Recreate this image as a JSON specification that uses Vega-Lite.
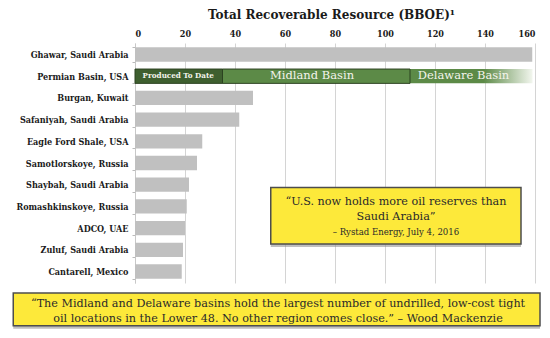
{
  "$schema": "https://vega.github.io/schema/vega-lite/v6.json",
  "width": 400,
  "height": 240,
  "autosize": {"type": "none"},
  "padding": {"left": 135, "top": 43, "right": 15, "bottom": 55},
  "background": "white",
  "config": {
    "view": {"stroke": null},
    "font": "DejaVu Serif"
  },
  "datasets": {
    "bars": [
      {"field": "Ghawar, Saudi Arabia", "segment": "Total", "start": 0, "end": 158.9},
      {"field": "Permian Basin, USA", "segment": "Produced To Date", "start": 0, "end": 35},
      {"field": "Permian Basin, USA", "segment": "Midland Basin", "start": 35, "end": 110},
      {"field": "Permian Basin, USA", "segment": "Delaware Basin", "start": 110, "end": 159},
      {"field": "Burgan, Kuwait", "segment": "Total", "start": 0, "end": 47.2},
      {"field": "Safaniyah, Saudi Arabia", "segment": "Total", "start": 0, "end": 41.7},
      {"field": "Eagle Ford Shale, USA", "segment": "Total", "start": 0, "end": 26.9},
      {"field": "Samotlorskoye, Russia", "segment": "Total", "start": 0, "end": 24.8},
      {"field": "Shaybah, Saudi Arabia", "segment": "Total", "start": 0, "end": 21.6},
      {"field": "Romashkinskoye, Russia", "segment": "Total", "start": 0, "end": 20.7},
      {"field": "ADCO, UAE", "segment": "Total", "start": 0, "end": 20.0},
      {"field": "Zuluf, Saudi Arabia", "segment": "Total", "start": 0, "end": 19.2},
      {"field": "Cantarell, Mexico", "segment": "Total", "start": 0, "end": 18.7}
    ],
    "seglabels": [
      {"field": "Permian Basin, USA", "label": "Produced To Date", "pos": 17.3, "kind": "small"},
      {"field": "Permian Basin, USA", "label": "Midland Basin", "pos": 70.8, "kind": "big"},
      {"field": "Permian Basin, USA", "label": "Delaware Basin", "pos": 131.4, "kind": "big"}
    ],
    "boxes": [
      {"box": "Rystad", "x1": 54.3, "x2": 154.4, "y1": 6.62, "y2": 9.21},
      {"box": "Wood", "x1": -48.7, "x2": 162, "y1": 11.46, "y2": 12.96}
    ],
    "quotes": [
      {"text": "“U.S. now holds more oil reserves than", "role": "quote", "qx": 104.4, "qy": 7.27},
      {"text": "Saudi Arabia”", "role": "quote", "qx": 104.4, "qy": 7.99},
      {"text": "– Rystad Energy, July 4, 2016", "role": "source", "qx": 104.4, "qy": 8.66},
      {"text": "“The Midland and Delaware basins hold the largest number of undrilled, low-cost tight", "role": "quote", "qx": 57.2, "qy": 11.97},
      {"text": "oil locations in the Lower 48. No other region comes close.” – Wood Mackenzie", "role": "quote", "qx": 57.2, "qy": 12.64}
    ]
  },
  "layer": [
    {
      "layer": [
        {
          "data": {"name": "bars"},
          "transform": [{"filter": "datum.segment === 'Total'"}],
          "mark": {"type": "bar", "color": "#c0c0c0"},
          "encoding": {
            "y": {
              "field": "field",
              "type": "nominal",
              "sort": ["Ghawar, Saudi Arabia", "Permian Basin, USA", "Burgan, Kuwait", "Safaniyah, Saudi Arabia", "Eagle Ford Shale, USA", "Samotlorskoye, Russia", "Shaybah, Saudi Arabia", "Romashkinskoye, Russia", "ADCO, UAE", "Zuluf, Saudi Arabia", "Cantarell, Mexico"],
              "scale": {"paddingInner": 0.34, "paddingOuter": 0.2},
              "axis": {
                "title": null,
                "labelFont": "DejaVu Serif Condensed, DejaVu Serif",
                "labelFontWeight": "bold",
                "labelFontSize": 9,
                "labelColor": "#1a1a1a",
                "labelPadding": 4,
                "tickBand": "extent",
                "tickSize": 3,
                "tickColor": "#bbbbbb",
                "domainColor": "#c8c8c8",
                "grid": false
              }
            },
            "x": {
              "field": "start",
              "type": "quantitative",
              "scale": {"domain": [0, 160], "nice": false},
              "axis": {
                "orient": "top",
                "values": [0, 20, 40, 60, 80, 100, 120, 140, 160],
                "title": "Total Recoverable Resource (BBOE)¹",
                "titleFont": "DejaVu Serif",
                "titleFontWeight": "bold",
                "titleFontSize": 12,
                "titleColor": "#1a1a1a",
                "titlePadding": 8,
                "titleX": 196,
                "labelFont": "DejaVu Serif Condensed, DejaVu Serif",
                "labelFontWeight": "bold",
                "labelFontSize": 9,
                "labelColor": "#1a1a1a",
                "labelPadding": 5,
                "ticks": false,
                "domain": false,
                "grid": true,
                "gridColor": "#d4d4d4",
                "gridWidth": 1
              }
            },
            "x2": {"field": "end"}
          }
        },
        {
          "data": {"name": "bars"},
          "transform": [{"filter": "datum.segment === 'Delaware Basin'"}],
          "mark": {
            "type": "bar",
            "color": {
              "gradient": "linear",
              "x1": 0, "y1": 0, "x2": 1, "y2": 0,
              "stops": [
                {"offset": 0, "color": "#5c8a47"},
                {"offset": 0.6, "color": "#5c8a47"},
                {"offset": 1, "color": "#f2f6ee"}
              ]
            }
          },
          "encoding": {
            "y": {"field": "field", "type": "nominal", "sort": ["Ghawar, Saudi Arabia", "Permian Basin, USA", "Burgan, Kuwait", "Safaniyah, Saudi Arabia", "Eagle Ford Shale, USA", "Samotlorskoye, Russia", "Shaybah, Saudi Arabia", "Romashkinskoye, Russia", "ADCO, UAE", "Zuluf, Saudi Arabia", "Cantarell, Mexico"]},
            "x": {"field": "start", "type": "quantitative"},
            "x2": {"field": "end"}
          }
        },
        {
          "data": {"name": "bars"},
          "transform": [{"filter": "datum.segment === 'Produced To Date' || datum.segment === 'Midland Basin'"}],
          "mark": {"type": "bar", "stroke": "#2b4220", "strokeWidth": 1},
          "encoding": {
            "y": {"field": "field", "type": "nominal", "sort": ["Ghawar, Saudi Arabia", "Permian Basin, USA", "Burgan, Kuwait", "Safaniyah, Saudi Arabia", "Eagle Ford Shale, USA", "Samotlorskoye, Russia", "Shaybah, Saudi Arabia", "Romashkinskoye, Russia", "ADCO, UAE", "Zuluf, Saudi Arabia", "Cantarell, Mexico"]},
            "x": {"field": "start", "type": "quantitative"},
            "x2": {"field": "end"},
            "color": {
              "field": "segment",
              "type": "nominal",
              "scale": {"domain": ["Produced To Date", "Midland Basin"], "range": ["#3e5f2f", "#5c8a47"]},
              "legend": null
            }
          }
        },
        {
          "data": {"name": "seglabels"},
          "transform": [{"filter": "datum.kind === 'small'"}],
          "mark": {"type": "text", "color": "#f4f4ec", "font": "DejaVu Serif Condensed, DejaVu Serif", "fontWeight": "bold", "fontSize": 8, "align": "center", "baseline": "middle"},
          "encoding": {
            "y": {"field": "field", "type": "nominal", "sort": ["Ghawar, Saudi Arabia", "Permian Basin, USA", "Burgan, Kuwait", "Safaniyah, Saudi Arabia", "Eagle Ford Shale, USA", "Samotlorskoye, Russia", "Shaybah, Saudi Arabia", "Romashkinskoye, Russia", "ADCO, UAE", "Zuluf, Saudi Arabia", "Cantarell, Mexico"]},
            "x": {"field": "pos", "type": "quantitative"},
            "text": {"field": "label"}
          }
        },
        {
          "data": {"name": "seglabels"},
          "transform": [{"filter": "datum.kind === 'big'"}],
          "mark": {"type": "text", "color": "#f4f4ec", "font": "DejaVu Serif", "fontSize": 11.5, "align": "center", "baseline": "middle"},
          "encoding": {
            "y": {"field": "field", "type": "nominal", "sort": ["Ghawar, Saudi Arabia", "Permian Basin, USA", "Burgan, Kuwait", "Safaniyah, Saudi Arabia", "Eagle Ford Shale, USA", "Samotlorskoye, Russia", "Shaybah, Saudi Arabia", "Romashkinskoye, Russia", "ADCO, UAE", "Zuluf, Saudi Arabia", "Cantarell, Mexico"]},
            "x": {"field": "pos", "type": "quantitative"},
            "text": {"field": "label"}
          }
        }
      ]
    },
    {
      "layer": [
        {
          "data": {"name": "boxes"},
          "mark": {"type": "rect", "color": "#8a8a8a", "opacity": 0.55, "xOffset": 0, "x2Offset": 0, "yOffset": 1, "y2Offset": 3},
          "encoding": {
            "x": {"field": "x1", "type": "quantitative", "scale": {"domain": [0, 160], "nice": false, "zero": false}, "axis": null},
            "x2": {"field": "x2"},
            "y": {"field": "y1", "type": "quantitative", "scale": {"domain": [0, 11], "reverse": true, "nice": false, "zero": false}, "axis": null},
            "y2": {"field": "y2"}
          }
        },
        {
          "data": {"name": "boxes"},
          "mark": {"type": "rect", "fill": "#fde93a", "stroke": "#4d4d4d", "strokeWidth": 1.5},
          "encoding": {
            "x": {"field": "x1", "type": "quantitative"},
            "x2": {"field": "x2"},
            "y": {"field": "y1", "type": "quantitative"},
            "y2": {"field": "y2"}
          }
        },
        {
          "data": {"name": "quotes"},
          "transform": [{"filter": "datum.role === 'quote'"}],
          "mark": {"type": "text", "font": "DejaVu Serif", "fontSize": 11.2, "color": "#2a2a2a", "align": "center", "baseline": "middle"},
          "encoding": {
            "x": {"field": "qx", "type": "quantitative"},
            "y": {"field": "qy", "type": "quantitative"},
            "text": {"field": "text"}
          }
        },
        {
          "data": {"name": "quotes"},
          "transform": [{"filter": "datum.role === 'source'"}],
          "mark": {"type": "text", "font": "DejaVu Serif Condensed, DejaVu Serif", "fontSize": 9.5, "color": "#2a2a2a", "align": "center", "baseline": "middle"},
          "encoding": {
            "x": {"field": "qx", "type": "quantitative"},
            "y": {"field": "qy", "type": "quantitative"},
            "text": {"field": "text"}
          }
        }
      ]
    }
  ],
  "resolve": {"scale": {"x": "independent", "y": "independent"}, "axis": {"x": "independent", "y": "independent"}}
}
